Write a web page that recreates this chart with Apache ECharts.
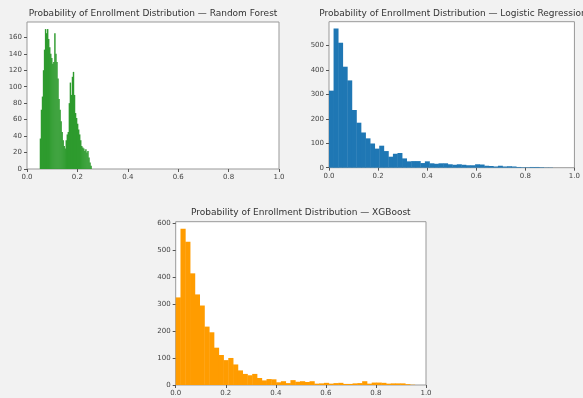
<!DOCTYPE html>
<html><head><meta charset="utf-8">
<script src="https://cdn.jsdelivr.net/npm/echarts@6/dist/echarts.min.js"></script>
<style>html,body{margin:0;padding:0;background:#f2f2f2;}#c{width:583px;height:398px;}</style>
</head><body><div id="c"></div>
<script>
// ---- Data ----
const titles = [
  'Probability of Enrollment Distribution \u2014 Random Forest',
  'Probability of Enrollment Distribution \u2014 Logistic Regression',
  'Probability of Enrollment Distribution \u2014 XGBoost'
];
const xTicks = [0.0, 0.2, 0.4, 0.6, 0.8, 1.0];
const rfTicks = [0, 20, 40, 60, 80, 100, 120, 140, 160];
const lrTicks = [0, 100, 200, 300, 400, 500];
const xgbTicks = [0, 100, 200, 300, 400, 500, 600];

// Random Forest: 50 bins
const rfBinStart = 0.0505;
const rfBinWidth = 0.0041;
const rfCounts = [37,72,88,120,145,170,165,170,158,148,140,135,128,130,165,140,130,110,85,72,
  58,45,35,28,25,35,42,45,80,105,90,112,118,90,68,62,55,48,42,35,
  28,26,25,22,24,20,22,14,8,4];

// Logistic Regression: 49 bins
const lrBinStart = 0.0;
const lrBinWidth = 0.0186;
const lrCounts = [315,569,511,413,357,236,184,144,120,99,78,90,68,45,57,60,38,26,27,27,
  19,26,18,16,18,18,14,12,14,12,10,10,14,13,8,7,5,8,5,6,
  5,3,2,2,3,3,2,1,1];

// XGBoost: 50 bins
const xgbBinStart = 0.0;
const xgbBinWidth = 0.0191;
const xgbCounts = [324,578,530,413,335,294,216,195,138,111,92,100,76,54,41,36,41,26,17,22,
  21,10,14,7,18,12,14,11,14,5,6,8,5,7,8,4,4,6,7,14,
  5,9,9,8,5,6,6,6,3,1];

// ---- Build ----
function bins(start, width, counts) {
  return counts.map((c, i) => [start + i * width, start + (i + 1) * width, c]);
}
const panels = [
  {data: bins(rfBinStart, rfBinWidth, rfCounts), color: '#2e9b2e', yMax: 178.6, yTicks: rfTicks,
   grid: {left: 27, top: 22, width: 252, height: 147}, titleTop: 9.5},
  {data: bins(lrBinStart, lrBinWidth, lrCounts), color: '#1f77b4', yMax: 597, yTicks: lrTicks,
   grid: {left: 329, top: 21.7, width: 248, height: 146}, titleTop: 9.5},
  {data: bins(xgbBinStart, xgbBinWidth, xgbCounts), color: '#ff9c00', yMax: 604, yTicks: xgbTicks,
   grid: {left: 175.7, top: 221.7, width: 250.3, height: 163.3}, titleTop: 208}
];
const font = 'DejaVu Sans';
const option = {
  animation: false,
  backgroundColor: '#f2f2f2',
  title: panels.map((p, i) => ({
    text: titles[i], left: p.grid.left + p.grid.width / 2, top: p.titleTop,
    textAlign: 'center', padding: 0,
    textStyle: {fontFamily: font, fontSize: 9, fontWeight: 'normal', color: '#333'}
  })),
  grid: panels.map(p => Object.assign({show: true, backgroundColor: '#fff', borderColor: '#999', borderWidth: 1}, p.grid)),
  xAxis: panels.map((p, i) => ({
    type: 'value', gridIndex: i, min: 0, max: 1, interval: 0.2,
    axisLine: {show: false}, splitLine: {show: false},
    axisTick: {show: true, length: 3, lineStyle: {color: '#555'}, customValues: xTicks},
    axisLabel: {fontFamily: font, fontSize: 7, color: '#444', margin: 5, customValues: xTicks,
      formatter: v => v.toFixed(1)}
  })),
  yAxis: panels.map((p, i) => ({
    type: 'value', gridIndex: i, min: 0, max: p.yMax,
    axisLine: {show: false}, splitLine: {show: false},
    axisTick: {show: true, length: 3, lineStyle: {color: '#555'}, customValues: p.yTicks},
    axisLabel: {fontFamily: font, fontSize: 7, color: '#444', margin: 5, customValues: p.yTicks}
  })),
  series: panels.map((p, i) => ({
    type: 'custom', xAxisIndex: i, yAxisIndex: i, data: p.data,
    renderItem: (params, api) => {
      const a = api.coord([api.value(0), api.value(2)]);
      const b = api.coord([api.value(1), 0]);
      return {type: 'rect', shape: {x: a[0], y: a[1], width: b[0] - a[0] + 0.4, height: b[1] - a[1]},
        style: {fill: p.color}};
    },
    encode: {x: [0, 1], y: 2}
  }))
};
echarts.init(document.getElementById('c')).setOption(option);
</script></body></html>
